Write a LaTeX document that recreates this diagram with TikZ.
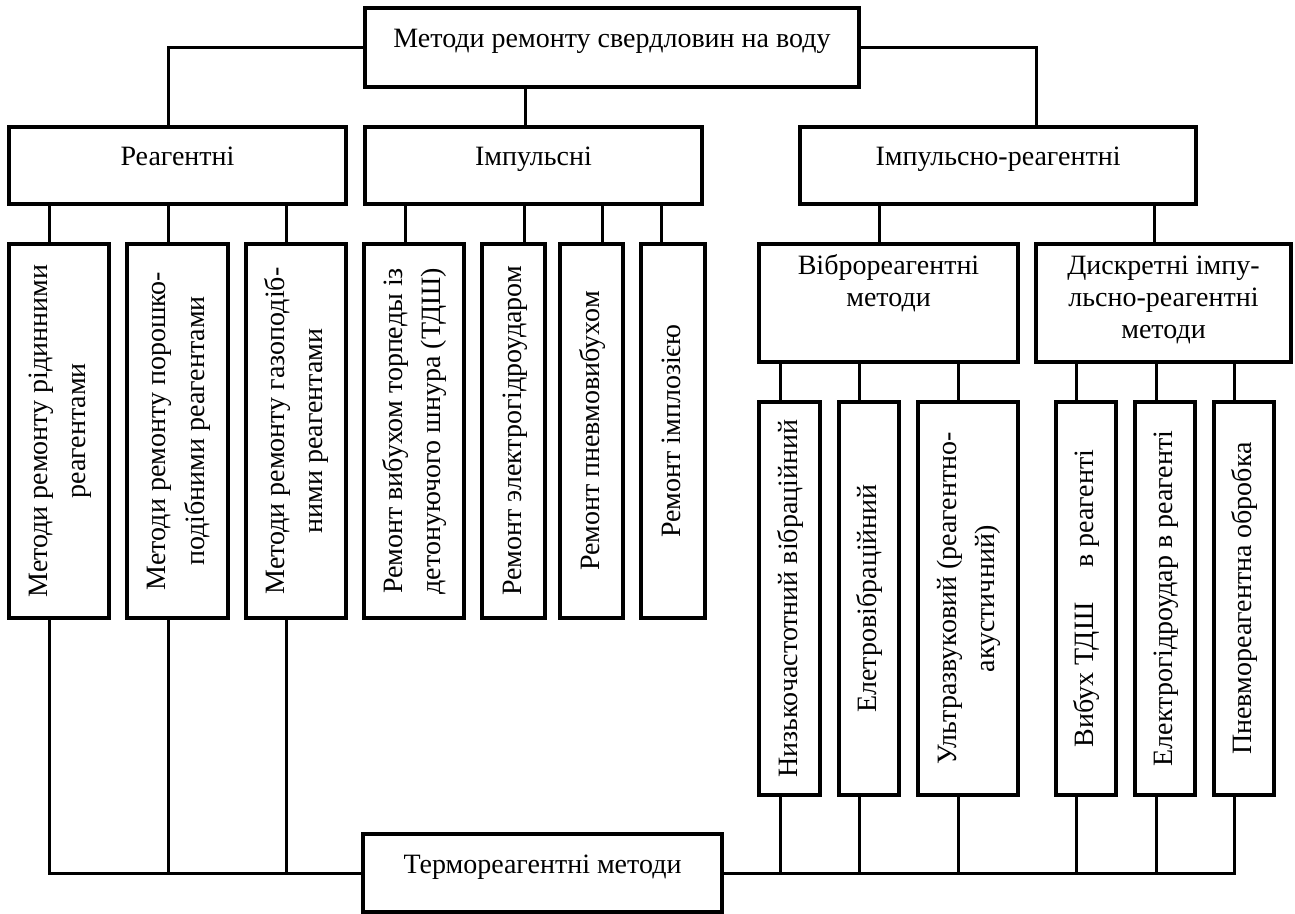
\documentclass[tikz,border=0pt]{standalone}
\usepackage{fontspec}
\setmainfont{Liberation Serif}
\usepackage{tikz}
\usetikzlibrary{positioning}

\newcommand{\toplines}[1]{\begin{tabular}[t]{@{}c@{}}#1\end{tabular}}
\newcommand{\uplines}[1]{\rotatebox{90}{\renewcommand{\arraystretch}{1.2}\begin{tabular}{@{}c@{}}#1\end{tabular}}}

\tikzset{
  every node/.style={font=\fontsize{28}{32}\selectfont, inner sep=0pt},
  hbox/.style={draw, line width=3.5pt, text height=20pt, text depth=20pt},
  tbox/.style={draw, line width=3.5pt, text height=30pt, text depth=88pt},
  vbox/.style={draw, line width=3.5pt},
  link/.style={line width=3pt}
}

\begin{document}
\begin{tikzpicture}[x=1pt,y=-1pt]
\useasboundingbox (0,0) rectangle (1295,913);
% top
\node[hbox, minimum width=494pt, minimum height=79pt] (top) at (612,47.5) {Методи ремонту свердловин на воду};
% second row
\node[hbox, minimum width=337pt, minimum height=77pt] (reag) at (177.5,165.5) {Реагентні};
\node[hbox, minimum width=337pt, minimum height=77pt] (imp) at (533.5,165.5) {Імпульсні};
\node[hbox, minimum width=396pt, minimum height=77pt] (impreag) at (998,165.5) {Імпульсно-реагентні};
\node[tbox, minimum width=259pt] (vibro) at (888.5,303) {\toplines{Віброреагентні\\методи}};
\node[tbox, minimum width=255pt] (discr) at (1163.5,303) {\toplines{Дискретні імпу-\\льсно-реагентні\\методи}};
% vertical boxes
\node[vbox, minimum width=100pt, minimum height=374pt] (b1) at (59,431) {\uplines{Методи ремонту рідинними\\реагентами}};
\node[vbox, minimum width=101pt, minimum height=374pt] (b2) at (177.5,431) {\uplines{Методи ремонту порошко-\\подібними реагентами}};
\node[vbox, minimum width=100pt, minimum height=374pt] (b3) at (296,431) {\uplines{Методи ремонту газоподіб-\\ними реагентами}};
\node[vbox, minimum width=100pt, minimum height=374pt] (b4) at (414,431) {\uplines{Ремонт вибухом торпеды із\\детонуючого шнура (ТДШ)}};
\node[vbox, minimum width=63pt, minimum height=374pt] (b5) at (513.5,431) {\uplines{Ремонт электрогідроударом}};
\node[vbox, minimum width=63pt, minimum height=374pt] (b6) at (591.5,431) {\uplines{Ремонт пневмовибухом}};
\node[vbox, minimum width=64pt, minimum height=374pt] (b7) at (673,431) {\uplines{Ремонт імплозією}};
\node[vbox, minimum width=61pt, minimum height=393pt] (c1) at (789.5,598.5) {\uplines{Низькочастотний вібраційний}};
\node[vbox, minimum width=60pt, minimum height=393pt] (c2) at (869,598.5) {\uplines{Елетровібраційний}};
\node[vbox, minimum width=100pt, minimum height=393pt] (c3) at (968,598.5) {\uplines{Ультразвуковий (реагентно-\\акустичний)}};
\node[vbox, minimum width=60pt, minimum height=393pt] (d1) at (1086,598.5) {\uplines{Вибух ТДШ\quad\ в реагенті}};
\node[vbox, minimum width=60pt, minimum height=393pt] (d2) at (1165,598.5) {\uplines{Електрогідроудар в реагенті}};
\node[vbox, minimum width=60pt, minimum height=393pt] (d3) at (1244,598.5) {\uplines{Пневмореагентна обробка}};
% bottom
\node[hbox, minimum width=359pt, minimum height=78pt] (thermo) at (542.5,873) {Термореагентні методи};

% links
\draw[link] (top.west) -| ([xshift=-9.5pt]reag.north);
\draw[link] (top.east) -| ([xshift=38pt]impreag.north);
\draw[link] ([xshift=-8.5pt]imp.north) -- ([xshift=-8.5pt]imp.north |- top.south);
\foreach \n/\dx in {b1/-9.5, b2/-9.5, b3/-9.5}
  \draw[link] ([xshift=\dx pt]\n.north) -- ([xshift=\dx pt]\n.north |- reag.south);
\foreach \n/\dx in {b4/-9, b5/10.5, b6/10.5, b7/-12}
  \draw[link] ([xshift=\dx pt]\n.north) -- ([xshift=\dx pt]\n.north |- imp.south);
\foreach \n in {vibro, discr}
  \draw[link] ([xshift=-9.5pt]\n.north) -- ([xshift=-9.5pt]\n.north |- impreag.south);
\foreach \n/\dx in {c1/-9.5, c2/-10, c3/-10}
  \draw[link] ([xshift=\dx pt]\n.north) -- ([xshift=\dx pt]\n.north |- vibro.south);
\foreach \n/\dx in {d1/-10, d2/-9, d3/-10}
  \draw[link] ([xshift=\dx pt]\n.north) -- ([xshift=\dx pt]\n.north |- discr.south);
\draw[link] ([xshift=-9.5pt]b1.south) |- (thermo.west);
\draw[link] ([xshift=-10pt]d3.south) |- (thermo.east);
\foreach \n/\dx in {b2/-9.5, b3/-9.5, c1/-9.5, c2/-10, c3/-10, d1/-10, d2/-9}
  \draw[link] ([xshift=\dx pt]\n.south) -- ([xshift=\dx pt]\n.south |- thermo.west);
\end{tikzpicture}
\end{document}
